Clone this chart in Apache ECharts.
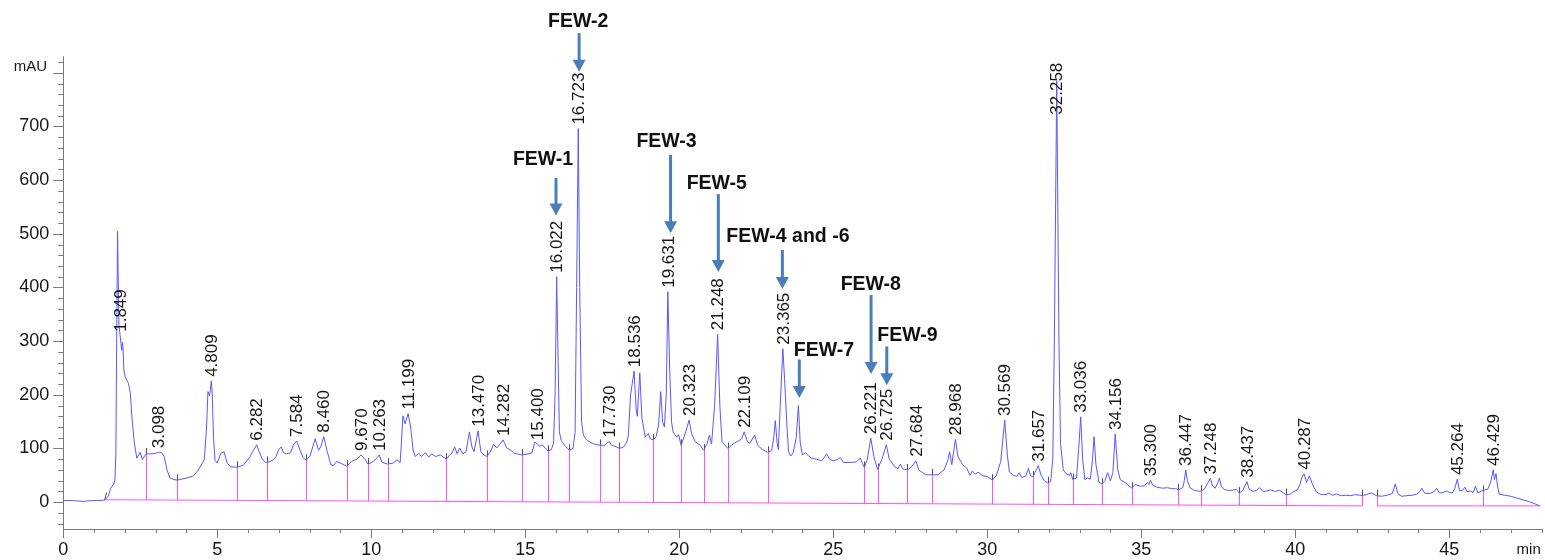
<!DOCTYPE html>
<html>
<head>
<meta charset="utf-8">
<script src="https://cdn.jsdelivr.net/npm/echarts@6/dist/echarts.min.js"></script>
<style>
  html, body { margin: 0; padding: 0; background: #fff; }
  #chart { width: 1545px; height: 560px; }
</style>
</head>
<body>
<div id="chart"></div>
<script>
// UV chromatogram (mAU vs retention time, min), one segment per 5 min as [time, mAU]
const trace00to05 = [[0,3],[0.3,3],[0.5,2],[0.66,1.5],[0.8,2.5],[1.1,3],[1.3,3.5],[1.37,5],[1.46,11],[1.54,26],[1.64,34],[1.68,41],[1.71,90],[1.74,330],[1.765,505],[1.785,420],[1.81,330],[1.849,310],[1.875,296],[1.9,283],[1.925,298],[1.945,282],[1.97,246],[2.01,234],[2.08,226],[2.12,221],[2.18,203],[2.23,159],[2.31,110],[2.39,82],[2.44,84],[2.5,93],[2.57,79],[2.62,84],[2.69,90],[2.85,90],[3.0,91],[3.098,93],[3.2,92],[3.28,85],[3.37,60],[3.47,45],[3.6,42],[3.71,41],[3.85,43],[4.01,45],[4.23,49],[4.39,60],[4.58,79],[4.65,134],[4.7,206],[4.75,198],[4.78,210],[4.809,226],[4.84,200],[4.88,120],[4.93,78]];
const trace05to10 = [[5.0,73],[5.12,91],[5.22,94],[5.33,72],[5.45,66],[5.64,65],[5.85,69],[6.07,85],[6.18,97],[6.282,107],[6.36,95],[6.45,82],[6.56,74],[6.63,74],[6.83,79],[6.91,85],[6.99,97],[7.08,103],[7.16,92],[7.25,90],[7.38,92],[7.48,107],[7.584,114],[7.69,97],[7.79,83],[7.89,78],[8.02,87],[8.18,118],[8.29,97],[8.36,103],[8.46,122],[8.56,97],[8.69,70],[8.77,68],[8.88,76],[8.99,73],[9.21,67],[9.37,76],[9.53,80],[9.67,88],[9.81,79],[9.89,71]];
const trace10to15 = [[10.02,74],[10.13,79],[10.263,88],[10.35,74],[10.53,71],[10.73,73],[10.83,79],[10.94,74],[10.98,110],[11.03,161],[11.1,146],[11.199,165],[11.28,140],[11.36,97],[11.43,85],[11.54,91],[11.63,85],[11.76,92],[11.87,84],[11.96,90],[12.09,85],[12.25,88],[12.44,80],[12.55,88],[12.63,92],[12.71,103],[12.79,90],[12.87,101],[12.98,90],[13.08,94],[13.19,131],[13.27,103],[13.34,94],[13.47,133],[13.56,94],[13.66,88],[13.76,85],[13.9,97],[13.97,108],[14.08,101],[14.18,108],[14.282,116],[14.4,101],[14.52,97],[14.65,91],[14.89,88]];
const trace15to20 = [[15.1,90],[15.22,92],[15.31,112],[15.4,108],[15.47,104],[15.56,107],[15.65,100],[15.75,95],[15.85,98],[15.92,110],[15.97,200],[16.022,420],[16.07,260],[16.11,131],[16.17,115],[16.28,106],[16.43,97],[16.55,100],[16.62,130],[16.67,400],[16.723,696],[16.77,400],[16.83,150],[16.89,125],[16.98,117],[17.1,112],[17.25,108],[17.44,106],[17.58,106],[17.65,110],[17.73,113],[17.8,106],[17.92,104],[18.06,100],[18.2,103],[18.3,112],[18.35,125],[18.42,200],[18.536,244],[18.6,175],[18.64,160],[18.72,241],[18.79,156],[18.9,121],[19.0,128],[19.06,118],[19.15,116],[19.25,122],[19.33,144],[19.4,206],[19.46,150],[19.52,140],[19.58,200],[19.631,392],[19.69,250],[19.75,150],[19.8,131],[19.92,121],[19.98,126]];
const trace20to25 = [[20.06,106],[20.18,125],[20.323,153],[20.4,128],[20.52,113],[20.68,106],[20.79,97],[20.9,108],[20.98,125],[21.05,108],[21.15,180],[21.248,313],[21.32,180],[21.39,113],[21.58,100],[21.7,106],[21.79,110],[21.95,115],[22.03,118],[22.109,131],[22.22,112],[22.3,110],[22.45,125],[22.55,106],[22.7,98],[22.87,93],[23.0,96],[23.07,120],[23.12,152],[23.18,110],[23.22,98],[23.28,180],[23.365,286],[23.42,230],[23.5,140],[23.55,94],[23.62,86],[23.7,92],[23.8,120],[23.87,180],[23.93,110],[24.0,88],[24.1,92],[24.2,86],[24.3,82],[24.45,80],[24.63,77],[24.72,84],[24.79,90],[24.88,80]];
const trace25to30 = [[25.0,77],[25.12,79],[25.23,83],[25.33,74],[25.6,74],[25.75,75],[25.88,82],[25.95,72],[26.01,65],[26.1,78],[26.221,119],[26.32,85],[26.44,61],[26.58,80],[26.725,107],[26.82,80],[27.0,66],[27.1,62],[27.18,71],[27.26,62],[27.41,60],[27.55,66],[27.684,77],[27.78,60],[28.0,51],[28.2,51],[28.4,51],[28.6,60],[28.72,78],[28.78,94],[28.85,70],[28.968,117],[29.05,85],[29.2,70],[29.34,63],[29.44,50],[29.52,58],[29.62,52],[29.7,56],[29.86,49]];
const trace30to35 = [[30.0,48],[30.17,41],[30.3,50],[30.44,76],[30.569,153],[30.65,90],[30.72,56],[30.85,50],[30.96,48],[31.04,55],[31.12,46],[31.25,48],[31.34,63],[31.4,50],[31.48,47],[31.55,55],[31.657,68],[31.75,50],[31.85,40],[31.96,36],[32.06,38],[32.13,80],[32.18,300],[32.258,785],[32.33,300],[32.38,110],[32.47,60],[32.58,52],[32.68,50],[32.71,55],[32.78,42],[32.9,45],[32.97,100],[33.036,159],[33.1,80],[33.17,42],[33.25,45],[33.35,43],[33.42,80],[33.47,122],[33.53,70],[33.63,37],[33.72,34],[33.82,40],[33.91,55],[34.0,40],[34.08,55],[34.156,127],[34.24,60],[34.32,42],[34.49,36],[34.7,26],[34.8,33],[34.95,30]];
const trace35to40 = [[35.1,30],[35.2,37],[35.25,33],[35.3,41],[35.38,31],[35.5,28],[35.7,26],[35.85,27],[36.0,25],[36.05,28],[36.12,25],[36.21,23],[36.35,27],[36.4,40],[36.447,60],[36.5,40],[36.58,27],[36.72,22],[36.92,20],[37.05,24],[37.15,35],[37.248,44],[37.32,30],[37.4,26],[37.48,35],[37.54,45],[37.6,30],[37.68,24],[37.8,22],[37.95,22],[38.08,24],[38.19,17],[38.3,22],[38.38,32],[38.437,38],[38.5,25],[38.62,20],[38.75,22],[38.84,27],[38.95,20],[39.1,21],[39.2,23],[39.35,20],[39.5,22],[39.7,14],[39.84,15],[39.95,20]];
const trace40to48 = [[40.06,22],[40.15,32],[40.22,46],[40.287,53],[40.37,37],[40.46,49],[40.55,35],[40.67,20],[40.84,14],[41.0,14],[41.1,17],[41.2,13],[41.35,15],[41.5,12],[41.65,13],[41.8,12],[41.95,14],[42.1,13],[42.17,12],[42.3,14],[42.47,17],[42.58,14],[42.65,12],[42.8,11],[43.0,13],[43.15,16],[43.25,34],[43.33,16],[43.45,11],[43.6,12],[43.8,13],[43.95,15],[44.05,20],[44.11,26],[44.2,17],[44.35,16],[44.5,19],[44.59,26],[44.68,17],[44.8,18],[44.92,21],[45.0,18],[45.1,17],[45.18,25],[45.264,43],[45.33,22],[45.42,21],[45.51,28],[45.58,19],[45.68,21],[45.78,18],[45.85,30],[45.93,17],[46.05,21],[46.11,20],[46.25,24],[46.35,38],[46.429,60],[46.47,42],[46.52,53],[46.57,30],[46.62,15],[46.8,13],[47.0,11],[47.3,6],[47.6,1],[47.95,-7]];

// integration baselines [time, mAU]
const baselineA = [[1.37, 4.5], [42.17, -7]];
const baselineB = [[42.65, -7], [47.95, -7]];

// peak-separation drop lines (min)
const dropTimes = [2.69, 3.71, 5.64, 6.63, 7.89, 9.21, 9.89, 10.53, 12.44, 13.76, 14.89, 15.75, 16.43, 17.44, 18.06, 19.15, 20.06, 20.79, 21.58, 22.87, 26.01, 26.44, 27.41, 28.20, 30.17, 31.48, 31.96, 32.78, 33.72, 34.70, 36.21, 36.94, 38.19, 39.70, 42.17, 42.65, 46.11];
const integrationStart = 1.37;

// retention times printed above peaks
const peakLabels = ['1.849','3.098','4.809','6.282','7.584','8.460','9.670','10.263','11.199','13.470','14.282','15.400','16.022','16.723','17.730','18.536','19.631','20.323','21.248','22.109','23.365','26.221','26.725','27.684','28.968','30.569','31.657','32.258','33.036','34.156','35.300','36.447','37.248','38.437','40.287','45.264','46.429'];

// fraction call-outs: text anchor and arrow (time, mAU from -> to)
const fewNames  = ['FEW-1','FEW-2','FEW-3','FEW-5','FEW-4 and -6','FEW-7','FEW-8','FEW-9'];
const fewTextT  = [15.58, 16.72, 19.59, 21.22, 23.53, 24.70, 26.22, 27.41];
const fewTextV  = [638, 896, 671, 594, 495, 283, 405, 311];
const fewArrowT = [16.0, 16.75, 19.72, 21.27, 23.35, 23.90, 26.23, 26.74];
const fewFromV  = [604, 874, 647, 574, 470, 266, 386, 290];
const fewToV    = [534, 802, 501, 429, 397, 194, 239, 218];

// axis ticks
const xTickLabels = ['0','5','10','15','20','25','30','35','40','45'];
const yTickLabels = ['0','100','200','300','400','500','600','700'];
const xUnit = 'min';
const yUnit = 'mAU';

const trace = [].concat(trace00to05, trace05to10, trace10to15, trace15to20, trace20to25, trace25to30, trace30to35, trace35to40, trace40to48);

const FONT = '"Liberation Sans", Arial, Helvetica, sans-serif';
const AXIS = '#7a7a7a';
const TEXT = '#161616';
const TRACE = '#5858ff';
const BASE = '#ff4fff';
const ARROW = '#4a7ebb';

const measureCtx = document.createElement('canvas').getContext('2d');
function textWidth(s, size, weight) {
  measureCtx.font = (weight || 'normal') + ' ' + size + 'px ' + FONT;
  return measureCtx.measureText(s).width;
}
function valueAt(pts, t) {
  if (t <= pts[0][0]) return pts[0][1];
  for (let i = 1; i < pts.length; i++) {
    if (t <= pts[i][0]) {
      const t0 = pts[i - 1][0], v0 = pts[i - 1][1], t1 = pts[i][0], v1 = pts[i][1];
      return v0 + (v1 - v0) * (t - t0) / (t1 - t0);
    }
  }
  return pts[pts.length - 1][1];
}
function baselineAt(t) {
  return t <= baselineA[1][0] ? valueAt(baselineA, t) : valueAt(baselineB, t);
}
const crisp = (x) => Math.round(x) + 0.5;

const Y_MIN = -50, Y_MAX = 830, X_MAX = 48;

const chart = echarts.init(document.getElementById('chart'), null, { renderer: 'canvas' });

const option = {
  animation: false,
  backgroundColor: '#ffffff',
  grid: { left: 63.2, right: 3.4, top: 56.7, bottom: 31, outerBoundsMode: 'none', containLabel: false },
  xAxis: {
    type: 'value', min: 0, max: X_MAX, interval: 5,
    axisLine: { show: true, onZero: false, lineStyle: { color: AXIS, width: 1 } },
    axisTick: { show: false },
    splitLine: { show: false },
    axisLabel: {
      margin: 12, fontSize: 18, color: TEXT, fontFamily: FONT,
      formatter: (v) => xTickLabels.indexOf(String(v)) >= 0 ? String(v) : ''
    }
  },
  yAxis: {
    type: 'value', min: Y_MIN, max: Y_MAX, interval: 50,
    axisLine: { show: true, onZero: false, lineStyle: { color: AXIS, width: 1 } },
    axisTick: { show: false },
    splitLine: { show: false },
    axisLabel: {
      margin: 14, fontSize: 18, color: TEXT, fontFamily: FONT,
      formatter: (v) => yTickLabels.indexOf(String(v)) >= 0 ? String(v) : ''
    }
  },
  series: [
    {
      // axis ticks and unit captions
      type: 'custom', z: 1, silent: true, clip: false,
      data: [[0, 0]],
      renderItem: (params, api) => {
        const kids = [];
        for (let t = 0; t <= X_MAX; t++) {
          const p = api.coord([t, Y_MIN]);
          const x = crisp(p[0]);
          kids.push({ type: 'line', shape: { x1: x, y1: p[1], x2: x, y2: p[1] + (t % 5 === 0 ? 9 : 4) }, style: { stroke: AXIS, lineWidth: 1 } });
        }
        for (let v = -40; v <= 820; v += 20) {
          const p = api.coord([0, v]);
          const y = crisp(p[1]);
          kids.push({ type: 'line', shape: { x1: p[0], y1: y, x2: p[0] - (v % 100 === 0 ? 10 : 5), y2: y }, style: { stroke: AXIS, lineWidth: 1 } });
        }
        const pu = api.coord([0, 800]);
        kids.push({ type: 'text', x: pu[0] - 16, y: pu[1] - 6, style: { text: yUnit, font: '15px ' + FONT, fill: TEXT, align: 'right', verticalAlign: 'middle' } });
        const px = api.coord([X_MAX, Y_MIN]);
        kids.push({ type: 'text', x: px[0] - 25, y: px[1] + 21, style: { text: xUnit, font: '15px ' + FONT, fill: TEXT, align: 'left', verticalAlign: 'middle' } });
        return { type: 'group', children: kids };
      }
    },
    {
      type: 'line', z: 2, data: baselineA, showSymbol: false, symbol: 'none', silent: true,
      lineStyle: { color: BASE, width: 1 }
    },
    {
      type: 'line', z: 2, data: baselineB, showSymbol: false, symbol: 'none', silent: true,
      lineStyle: { color: BASE, width: 1 }
    },
    {
      // drop lines from the baseline up to the trace, with integration tick marks
      type: 'custom', z: 3, silent: true, clip: false,
      data: [[0, 0]],
      renderItem: (params, api) => {
        const kids = [];
        dropTimes.forEach((t) => {
          const p0 = api.coord([t, baselineAt(t)]);
          const p1 = api.coord([t, valueAt(trace, t)]);
          const x = crisp(p1[0]);
          kids.push({ type: 'line', shape: { x1: x, y1: p0[1], x2: x, y2: p1[1] }, style: { stroke: BASE, lineWidth: 1 } });
          kids.push({ type: 'line', shape: { x1: x, y1: p1[1], x2: x, y2: p1[1] - 6 }, style: { stroke: '#505050', lineWidth: 1 } });
        });
        const ps = api.coord([integrationStart, valueAt(trace, integrationStart)]);
        kids.push({ type: 'line', shape: { x1: crisp(ps[0]) - 1, y1: ps[1] + 1, x2: crisp(ps[0]) + 1, y2: ps[1] - 7 }, style: { stroke: '#505050', lineWidth: 1 } });
        return { type: 'group', children: kids };
      }
    },
    {
      type: 'line', z: 4, data: trace, showSymbol: false, symbol: 'none', silent: true,
      lineStyle: { color: TRACE, width: 1 }
    },
    {
      // retention-time labels, rotated, clamped under the top of the plot
      type: 'custom', z: 5, silent: true, clip: false,
      data: [[0, 0]],
      renderItem: (params, api) => {
        const kids = [];
        const top = params.coordSys.y;
        peakLabels.forEach((s) => {
          const rt = parseFloat(s);
          const p = api.coord([rt, valueAt(trace, rt)]);
          const len = textWidth(s, 17);
          let yb = p[1] - 4;
          if (yb - len < top + 6) yb = top + 6 + len;
          kids.push({
            type: 'text', x: p[0] + 1, y: yb, rotation: Math.PI / 2,
            style: { text: s, font: '17px ' + FONT, fill: TEXT, align: 'left', verticalAlign: 'middle' }
          });
        });
        return { type: 'group', children: kids };
      }
    },
    {
      // FEW fraction call-outs
      type: 'custom', z: 6, silent: true, clip: false,
      data: [[0, 0]],
      renderItem: (params, api) => {
        const kids = [];
        fewNames.forEach((name, i) => {
          const a0 = api.coord([fewArrowT[i], fewFromV[i]]);
          const a1 = api.coord([fewArrowT[i], fewToV[i]]);
          const head = 12, hw = 6.5;
          kids.push({ type: 'line', shape: { x1: a0[0], y1: a0[1], x2: a1[0], y2: a1[1] - head + 1 }, style: { stroke: ARROW, lineWidth: 3 } });
          kids.push({ type: 'polygon', shape: { points: [[a1[0] - hw, a1[1] - head], [a1[0] + hw, a1[1] - head], [a1[0], a1[1]]] }, style: { fill: ARROW } });
          const pt = api.coord([fewTextT[i], fewTextV[i]]);
          kids.push({ type: 'text', x: pt[0], y: pt[1], style: { text: name, font: 'bold 19.5px ' + FONT, fill: '#111', align: 'center', verticalAlign: 'middle' } });
        });
        return { type: 'group', children: kids };
      }
    }
  ]
};

chart.setOption(option);
</script>
</body>
</html>
